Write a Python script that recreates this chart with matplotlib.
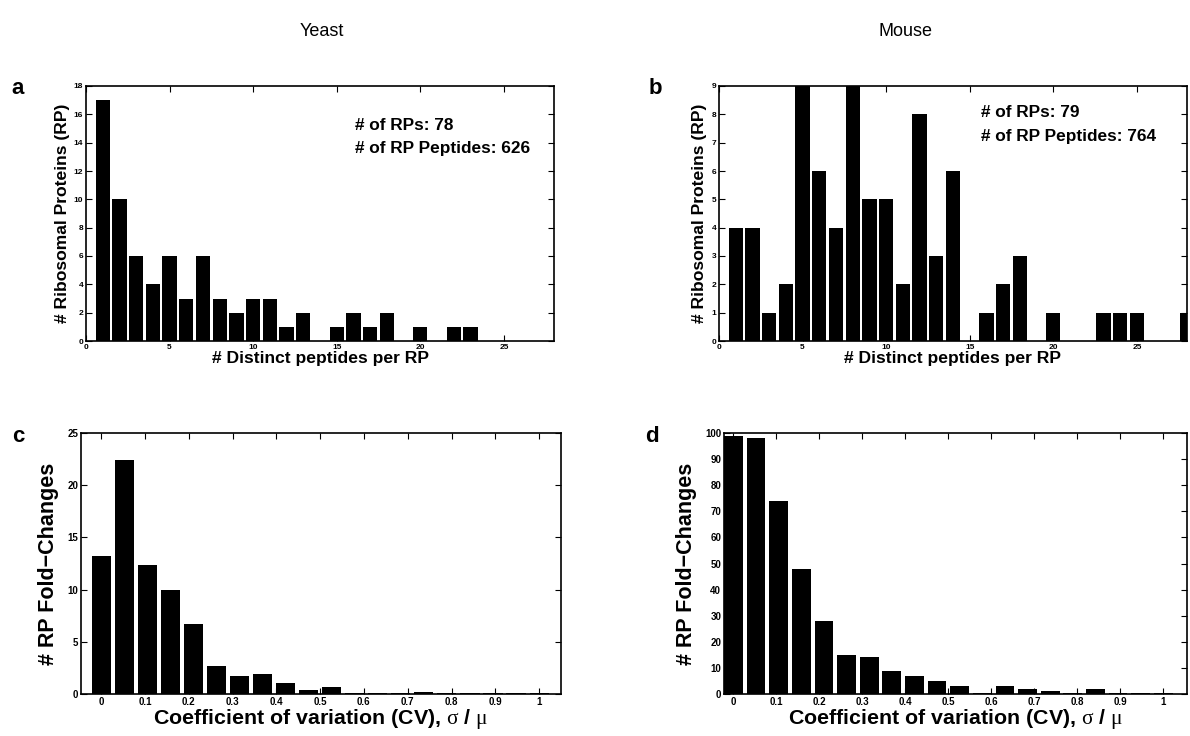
import matplotlib
matplotlib.use("Agg")
import matplotlib.pyplot as plt
import numpy as np

plt.rcParams["font.family"] = ["Liberation Sans", "DejaVu Sans"]
plt.rcParams["mathtext.fontset"] = "custom"
plt.rcParams["mathtext.rm"] = "Liberation Serif"
plt.rcParams["mathtext.it"] = "Liberation Serif"

# ---------------------------------------------------------
# data
# ---------------------------------------------------------
peptide_bins = list(range(1, 29))

yeast_rp_counts = [17, 10, 6, 4, 6, 3, 6, 3, 2, 3, 3, 1, 2, 0,
                   1, 2, 1, 2, 0, 1, 0, 1, 1, 0, 0, 0, 0, 0]
mouse_rp_counts = [4, 4, 1, 2, 9, 6, 4, 9, 5, 5, 2, 8, 3, 6,
                   0, 1, 2, 3, 0, 1, 0, 0, 1, 1, 1, 0, 0, 1]

# CV histogram: 20 bin centres from 0 to 1
cv_centers = np.linspace(0, 1, 20)
yeast_cv_counts = [13.2, 22.4, 12.4, 10.0, 6.7, 2.7, 1.7, 1.9, 1.05, 0.4,
                   0.7, 0.08, 0.08, 0.08, 0.2, 0.08, 0.08, 0.08, 0.08, 0.08]
mouse_cv_counts = [99, 98, 74, 48, 28, 15, 14, 9, 7, 5,
                   3, 0.4, 3, 2, 1, 0.4, 2, 0.4, 0.4, 0.4]

yeast_stats = ["# of RPs: 78", "# of RP Peptides: 626"]
mouse_stats = ["# of RPs: 79", "# of RP Peptides: 764"]

W, H = 1190, 736


def px_axes(fig, left, top, right, bottom):
    """axes from pixel box (top-left origin)"""
    return fig.add_axes([left / W, 1 - bottom / H, (right - left) / W, (bottom - top) / H])


def style_axes(ax, tick_size):
    ax.tick_params(direction="in", top=True, right=True, length=4,
                   width=0.8, labelsize=tick_size, pad=2)
    for lab in ax.get_xticklabels() + ax.get_yticklabels():
        lab.set_fontweight("bold")
    for sp in ax.spines.values():
        sp.set_linewidth(1.2)


fig = plt.figure(figsize=(W / 100, H / 100), dpi=100)

# ---------------------------------------------------------
# top row: distinct peptides per RP
# ---------------------------------------------------------
ax_a = px_axes(fig, 86, 86, 554, 341)
ax_b = px_axes(fig, 719, 86, 1187, 341)

for ax, counts, stats, ymax, ystep, txt_x, txt_y in [
    (ax_a, yeast_rp_counts, yeast_stats, 18, 2, 0.575, (0.847, 0.753)),
    (ax_b, mouse_rp_counts, mouse_stats, 9, 1, 0.56, (0.898, 0.80)),
]:
    ax.bar(peptide_bins, counts, width=0.85, color="black", edgecolor="none")
    ax.set_xlim(0, 28)
    ax.set_ylim(0, ymax)
    ax.set_xticks([0, 5, 10, 15, 20, 25])
    ax.set_yticks(np.arange(0, ymax + 0.1, ystep))
    style_axes(ax, 6)
    ax.set_xlabel("# Distinct peptides per RP", fontsize=12.6, fontweight="bold", labelpad=0)
    ax.set_ylabel("# Ribosomal Proteins (RP)", fontsize=12.6, fontweight="bold", labelpad=3)
    for s, yy in zip(stats, txt_y):
        ax.text(txt_x, yy, s, transform=ax.transAxes, fontsize=12.4,
                fontweight="bold", va="center", ha="left")

# ---------------------------------------------------------
# bottom row: CV of RP fold changes
# ---------------------------------------------------------
ax_c = px_axes(fig, 81, 433, 561, 694)
ax_d = px_axes(fig, 724, 433, 1187, 694)

bin_w = cv_centers[1] - cv_centers[0]
for ax, counts, ymax, ystep, xlim in [
    (ax_c, yeast_cv_counts, 25, 5, (-0.046, 1.05)),
    (ax_d, mouse_cv_counts, 100, 10, (-0.022, 1.055)),
]:
    ax.bar(cv_centers, counts, width=bin_w * 0.83, color="black", edgecolor="none")
    ax.set_xlim(*xlim)
    ax.set_ylim(0, ymax)
    ax.set_xticks(np.round(np.arange(0, 1.01, 0.1), 1))
    ax.set_xticklabels(["0"] + ["%.1f" % v for v in np.arange(0.1, 0.95, 0.1)] + ["1"])
    ax.set_yticks(np.arange(0, ymax + 0.1, ystep))
    style_axes(ax, 7)
    ax.set_xlabel(r"Coefficient of variation (CV), $\sigma$ / $\mu$",
                  fontsize=15.4, fontweight="bold", labelpad=0)
    ax.set_ylabel("# RP Fold\u2212Changes", fontsize=15.5, fontweight="bold", labelpad=6)

# titles and panel letters
fig.text(322 / W, 1 - 31 / H, "Yeast", fontsize=13, ha="center", va="center")
fig.text(905 / W, 1 - 31 / H, "Mouse", fontsize=13, ha="center", va="center")
for letter, x, y in [("a", 18, 88), ("b", 655, 88), ("c", 18, 437), ("d", 652, 437)]:
    fig.text(x / W, 1 - y / H, letter, fontsize=16, fontweight="bold", ha="center", va="center")

fig.savefig("out.png", dpi=100)
plt.close(fig)
